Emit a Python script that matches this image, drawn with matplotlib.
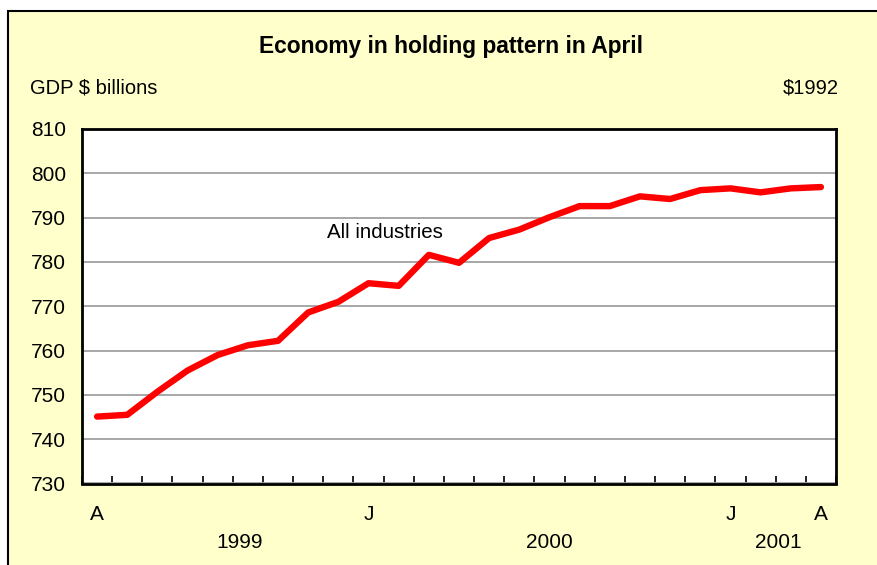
import matplotlib
matplotlib.use("Agg")
import matplotlib.pyplot as plt
import matplotlib.transforms as mtransforms
from matplotlib.patches import Rectangle

plt.rcParams['font.family'] = ['Liberation Sans', 'DejaVu Sans']

# ---- data ----
months = ['A', 'M', 'J', 'J', 'A', 'S', 'O', 'N', 'D',
          'J', 'F', 'M', 'A', 'M', 'J', 'J', 'A', 'S', 'O', 'N', 'D',
          'J', 'F', 'M', 'A']
shown_month_idx = [0, 9, 21, 24]
gdp = [745.1, 745.5, 750.7, 755.5, 759.0, 761.2, 762.2, 768.6, 771.0,
       775.2, 774.6, 781.6, 779.8, 785.4, 787.3, 790.1, 792.6, 792.6,
       794.8, 794.2, 796.2, 796.6, 795.7, 796.6, 796.9]
years = ['1999', '2000', '2001']
year_pos = [4.74, 15.0, 22.6]
y_ticks = [730, 740, 750, 760, 770, 780, 790, 800, 810]

W, H = 877, 565
fig = plt.figure(figsize=(W / 100, H / 100), dpi=100)
fig.patch.set_facecolor('white')

bg = Rectangle((8 / W, -0.02), 1.1, (H - 11) / H + 0.02, transform=fig.transFigure,
               facecolor='#FFFFCC', edgecolor='black', linewidth=1.5, zorder=-10)
fig.patches.append(bg)

ax = fig.add_axes([82 / W, 1 - 483.5 / H, (836 - 82) / W, (483.5 - 129) / H])
ax.set_facecolor('white')

x = list(range(len(gdp)))
ax.plot(x, gdp, color='#FF0000', linewidth=4.6, solid_capstyle='round',
        solid_joinstyle='round', zorder=3)

ax.set_xlim(-0.5, len(gdp) - 0.5)
ax.set_ylim(730, 810)
ax.set_yticks(y_ticks)
ax.set_yticklabels([str(v) for v in y_ticks], fontsize=15)
ax.tick_params(axis='y', length=0, pad=11.5)
ax.yaxis.grid(True, color='#A0A0A0', linewidth=1.3)
ax.set_axisbelow(True)

ax.set_xticks([i - 0.5 for i in range(len(gdp) + 1)])
ax.set_xticklabels([])
ax.tick_params(axis='x', direction='in', length=6, width=1.2, color='black')

for s in ax.spines.values():
    s.set_linewidth(2)
    s.set_color('black')

trans = mtransforms.blended_transform_factory(ax.transData, fig.transFigure)
for i in shown_month_idx:
    fig.text(i, 1 - 515 / H, months[i], transform=trans, ha='center', va='center',
             fontsize=15)
for yp, yl in zip(year_pos, years):
    fig.text(yp, 1 - 543 / H, yl, transform=trans, ha='center', va='center',
             fontsize=15)

fig.text(326.7 / W, 1 - 232.7 / H, 'All industries', ha='left', va='center',
         fontsize=14.8)

fig.text(451 / W, 1 - 46 / H, 'Economy in holding pattern in April', ha='center',
         va='center', fontsize=16.4, fontweight='bold')
fig.text(30 / W, 1 - 88 / H, 'GDP $ billions', ha='left', va='center', fontsize=14.5)
fig.text(839 / W, 1 - 88 / H, '$1992', ha='right', va='center', fontsize=14.5)

fig.savefig('out.png', dpi=100, facecolor=fig.get_facecolor())
